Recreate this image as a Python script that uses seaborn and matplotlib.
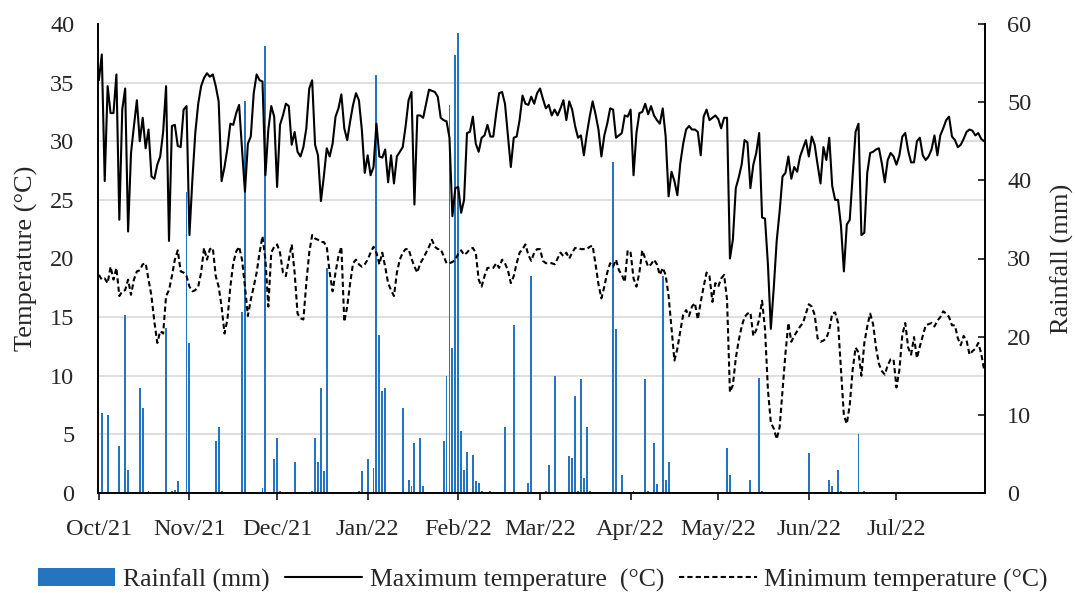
import numpy as np
import pandas as pd
import matplotlib
matplotlib.use("Agg")
import matplotlib.pyplot as plt
import seaborn as sns
from matplotlib.patches import Patch
from matplotlib.lines import Line2D

# ---------------- data (daily, 1 Oct 2021 - 31 Jul 2022) ----------------
tmax_oct = [35.2, 37.4, 26.6, 34.7, 32.4, 32.4, 35.7, 23.3, 32.7, 34.5, 22.3, 29.0, 31.3, 33.5, 30.0, 32.0,
            29.4, 31.0, 27.0, 26.8, 28.0, 28.7, 30.8, 34.7, 21.5, 31.3, 31.4, 29.6, 29.5, 32.7, 33.0]
tmax_nov = [22.0, 26.7, 30.7, 33.2, 34.7, 35.4, 35.8, 35.5, 35.7, 34.7, 33.4, 26.6, 27.8, 29.4, 31.5, 31.4,
            32.4, 33.1, 29.3, 25.7, 29.8, 30.4, 34.1, 35.7, 35.2, 35.1, 27.1, 31.0, 33.0, 32.1]
tmax_dec = [26.1, 31.4, 32.2, 33.2, 33.0, 29.7, 30.8, 29.1, 28.7, 29.5, 31.1, 34.5, 35.2, 29.7, 28.8, 24.9,
            27.0, 29.4, 28.7, 29.8, 32.1, 32.8, 34.0, 31.1, 30.1, 31.7, 33.1, 34.1, 33.5, 31.0, 27.3]
tmax_jan = [28.8, 27.1, 27.8, 31.5, 28.7, 28.6, 29.3, 26.5, 28.8, 26.4, 28.7, 29.1, 29.5, 31.3, 33.5, 34.2,
            24.6, 32.2, 32.2, 32.0, 33.2, 34.4, 34.3, 34.2, 33.8, 32.0, 31.8, 31.7, 30.3, 23.6, 26.0]
tmax_feb = [26.1, 23.9, 25.0, 30.7, 30.8, 32.1, 29.8, 29.1, 30.3, 30.5, 31.4, 30.4, 30.4, 32.4, 34.1, 34.2,
            33.2, 30.5, 27.8, 30.3, 30.4, 31.8, 33.9, 33.2, 33.1, 33.8, 33.2, 34.1]
tmax_mar = [34.5, 33.6, 32.8, 33.1, 32.2, 32.7, 32.2, 32.8, 33.5, 31.8, 33.4, 32.7, 31.3, 30.3, 30.5, 28.8,
            30.6, 32.1, 33.4, 32.3, 31.0, 28.7, 30.5, 31.5, 32.8, 32.7, 30.3, 30.5, 30.7, 32.2, 32.1]
tmax_apr = [32.7, 27.1, 30.7, 32.4, 32.5, 33.2, 32.3, 33.0, 32.2, 31.8, 31.5, 32.8, 30.4, 25.3, 27.4, 26.6,
            25.4, 28.1, 29.8, 31.0, 31.3, 31.0, 31.0, 30.8, 28.8, 32.1, 32.7, 31.8, 32.0, 32.2]
tmax_may = [31.9, 31.1, 32.0, 32.0, 20.0, 21.6, 26.0, 26.9, 28.0, 30.1, 29.9, 26.0, 28.0, 29.0, 30.7, 23.5,
            23.4, 19.5, 14.0, 17.5, 21.5, 24.0, 27.0, 27.3, 28.7, 26.8, 27.8, 27.4, 28.7, 29.4, 30.1]
tmax_jun = [28.7, 30.4, 29.7, 28.0, 26.4, 29.5, 28.4, 30.3, 26.2, 25.0, 25.0, 22.8, 18.9, 22.9, 23.3, 27.1,
            30.8, 31.5, 22.0, 22.2, 27.3, 29.0, 29.1, 29.3, 29.4, 28.1, 26.5, 28.4, 29.0, 28.7]
tmax_jul = [28.0, 28.8, 30.4, 30.7, 29.2, 28.2, 28.2, 30.0, 30.3, 28.8, 28.4, 28.7, 29.3, 30.5, 28.8, 30.5,
            31.1, 31.8, 32.1, 30.4, 30.1, 29.5, 29.7, 30.2, 30.8, 31.0, 30.9, 30.5, 30.7, 30.2, 30.0]

tmin_oct = [18.6, 18.2, 18.3, 17.9, 19.3, 18.2, 19.2, 16.8, 17.2, 17.3, 18.2, 16.9, 18.2, 18.9, 19.0, 19.5,
            19.6, 18.2, 16.8, 14.6, 12.8, 13.8, 13.6, 16.8, 17.3, 18.5, 19.9, 20.7, 18.9, 18.8, 18.5]
tmin_nov = [17.6, 17.2, 17.3, 17.6, 18.8, 20.9, 19.9, 20.8, 20.9, 18.5, 17.6, 15.9, 13.6, 14.8, 17.6, 19.6,
            20.6, 21.0, 19.9, 17.6, 15.1, 16.5, 17.6, 18.8, 20.5, 21.9, 19.9, 15.9, 20.5, 21.0]
tmin_dec = [21.2, 20.5, 18.8, 18.5, 19.9, 21.2, 18.8, 15.3, 14.9, 14.8, 17.9, 20.5, 22.0, 21.7, 21.6, 21.4,
            21.4, 21.0, 18.8, 17.2, 18.8, 20.2, 21.0, 14.6, 15.9, 17.9, 19.6, 19.9, 19.5, 19.3, 19.5]
tmin_jan = [19.9, 20.5, 21.0, 20.5, 19.5, 20.5, 19.3, 17.9, 17.3, 16.8, 18.8, 19.9, 20.5, 20.8, 20.8, 20.0,
            19.3, 18.8, 19.6, 20.0, 20.5, 21.0, 21.6, 21.0, 20.8, 20.8, 20.2, 19.6, 19.6, 19.7, 19.9]
tmin_feb = [20.4, 20.7, 20.3, 20.5, 20.8, 20.9, 20.5, 18.2, 17.6, 18.5, 19.2, 19.2, 19.2, 19.6, 19.2, 19.9,
            19.6, 19.0, 17.9, 18.5, 19.6, 20.5, 20.8, 21.2, 20.3, 19.8, 20.5, 20.8]
tmin_mar = [20.8, 19.8, 19.6, 19.6, 19.6, 19.5, 20.0, 20.5, 20.2, 20.5, 20.0, 20.5, 20.9, 20.9, 20.8, 20.8,
            20.8, 21.0, 21.1, 19.5, 17.8, 16.6, 17.6, 18.8, 19.6, 19.3, 19.9, 19.0, 18.6, 18.0, 20.7]
tmin_apr = [20.5, 18.3, 17.6, 18.8, 20.7, 20.0, 19.3, 19.5, 19.9, 19.5, 18.6, 19.2, 18.6, 16.8, 14.0, 11.3,
            12.3, 13.8, 15.2, 15.6, 15.1, 15.9, 16.2, 14.8, 16.3, 17.6, 18.8, 18.5, 16.3, 17.9]
tmin_may = [17.6, 18.3, 18.6, 16.5, 8.6, 9.2, 11.5, 13.0, 14.2, 15.0, 15.3, 15.4, 13.4, 13.9, 14.8, 16.4,
            14.0, 8.8, 6.0, 5.5, 4.6, 5.6, 8.8, 11.9, 14.5, 12.9, 13.4, 13.8, 14.2, 14.5, 15.3]
tmin_jun = [16.1, 15.9, 15.2, 13.2, 12.9, 13.0, 13.2, 13.9, 15.3, 15.4, 14.5, 10.5, 6.6, 5.9, 7.5, 10.5,
            12.4, 12.0, 10.0, 12.8, 14.2, 15.3, 14.4, 12.4, 11.0, 10.4, 10.1, 10.9, 11.4, 11.4]
tmin_jul = [9.0, 10.5, 13.5, 14.5, 12.4, 11.8, 13.3, 11.5, 12.5, 13.4, 14.3, 14.4, 14.5, 14.2, 14.7, 15.0,
            15.5, 15.3, 15.0, 14.3, 14.3, 13.2, 12.6, 13.4, 13.0, 11.8, 12.1, 12.3, 12.8, 11.9, 10.5]

rain_dates = ["2021-10-02", "2021-10-04", "2021-10-08", "2021-10-10", "2021-10-11", "2021-10-15",
              "2021-10-16", "2021-10-18", "2021-10-24", "2021-10-26", "2021-10-27", "2021-10-28",
              "2021-10-31", "2021-11-01", "2021-11-10", "2021-11-11", "2021-11-12", "2021-11-19",
              "2021-11-20", "2021-11-26", "2021-11-27", "2021-11-30", "2021-12-01", "2021-12-02",
              "2021-12-07", "2021-12-13", "2021-12-14", "2021-12-15", "2021-12-16", "2021-12-17",
              "2021-12-18", "2021-12-29", "2021-12-30", "2022-01-01", "2022-01-03", "2022-01-04",
              "2022-01-05", "2022-01-06", "2022-01-07", "2022-01-13", "2022-01-15", "2022-01-16",
              "2022-01-17", "2022-01-19", "2022-01-20", "2022-01-27", "2022-01-28", "2022-01-29",
              "2022-01-30", "2022-01-31", "2022-02-01", "2022-02-02", "2022-02-03", "2022-02-04",
              "2022-02-06", "2022-02-07", "2022-02-08", "2022-02-09", "2022-02-12", "2022-02-17",
              "2022-02-20", "2022-02-25", "2022-02-26", "2022-03-03", "2022-03-04", "2022-03-06",
              "2022-03-11", "2022-03-12", "2022-03-13", "2022-03-14", "2022-03-15", "2022-03-16",
              "2022-03-17", "2022-03-18", "2022-03-26", "2022-03-27", "2022-03-29", "2022-04-02",
              "2022-04-06", "2022-04-07", "2022-04-09", "2022-04-10", "2022-04-12", "2022-04-13",
              "2022-04-14", "2022-05-04", "2022-05-05", "2022-05-12", "2022-05-15", "2022-05-16",
              "2022-06-01", "2022-06-08", "2022-06-09", "2022-06-11", "2022-06-12", "2022-06-18",
              "2022-06-20"]
rain_mm = [10.2, 10.0, 6.0, 22.8, 3.0, 13.4,
           10.9, 0.2, 21.1, 0.2, 0.4, 1.5,
           38.5, 19.2, 6.6, 8.5, 0.2, 23.2,
           50.1, 0.6, 57.2, 4.3, 7.0, 0.2,
           4.0, 0.2, 7.0, 4.0, 13.4, 2.8,
           28.8, 0.2, 2.8, 4.3, 3.2, 53.5,
           20.2, 13.0, 13.4, 10.9, 1.7, 0.9,
           6.4, 7.0, 0.9, 6.6, 15.0, 49.6,
           18.5, 56.0, 58.8, 7.9, 3.0, 5.3,
           4.9, 1.5, 1.3, 0.2, 0.2, 8.5,
           21.5, 1.3, 27.7, 0.2, 3.6, 15.0,
           4.7, 4.5, 12.4, 0.2, 14.6, 1.9,
           8.5, 0.2, 42.3, 21.0, 2.3, 0.2,
           14.6, 0.2, 6.4, 1.1, 27.7, 1.7,
           4.0, 5.8, 2.3, 1.7, 14.7, 0.2,
           5.1, 1.7, 0.9, 3.0, 0.2, 7.5,
           0.2]

month_labels = ["Oct/21", "Nov/21", "Dec/21", "Jan/22", "Feb/22", "Mar/22",
                "Apr/22", "May/22", "Jun/22", "Jul/22"]
temp_ticks = [0, 5, 10, 15, 20, 25, 30, 35, 40]
rain_ticks = [0, 10, 20, 30, 40, 50, 60]

# ---------------- assemble ----------------
dates = pd.date_range("2021-10-01", "2022-07-31", freq="D")
tmax = np.array(tmax_oct + tmax_nov + tmax_dec + tmax_jan + tmax_feb + tmax_mar +
                tmax_apr + tmax_may + tmax_jun + tmax_jul)
tmin = np.array(tmin_oct + tmin_nov + tmin_dec + tmin_jan + tmin_feb + tmin_mar +
                tmin_apr + tmin_may + tmin_jun + tmin_jul)
rain = np.zeros(len(dates))
rain[dates.get_indexer(pd.to_datetime(rain_dates))] = rain_mm
df = pd.DataFrame({"day": np.arange(len(dates)), "tmax": tmax, "tmin": tmin, "rain": rain})
month_pos = np.where(dates.day == 1)[0]

# ---------------- style ----------------
sns.set_theme(style="white")
plt.rcParams['font.family'] = ['Liberation Serif', 'DejaVu Serif']
BLUE = "#2474C0"

W, H = 1075, 593
fig = plt.figure(figsize=(W / 100, H / 100), dpi=100)
L, R, T, B = 98, 985, 24, 493
ax = fig.add_axes([L / W, 1 - B / H, (R - L) / W, (B - T) / H])
ax2 = ax.twinx()
ax.set_zorder(ax2.get_zorder() + 1)
ax.patch.set_visible(False)

# rainfall bars on the secondary axis (drawn underneath)
ax2.bar(df["day"], df["rain"], width=0.65, color=BLUE, linewidth=0, zorder=2)
ax2.set_ylim(0, 60)
ax2.set_yticks(rain_ticks)
ax2.set_yticks(np.arange(7.5, 60.01, 7.5), minor=True)
ax2.yaxis.grid(True, which='minor', color='#d9d9d9', lw=1.2)
ax2.set_axisbelow(True)
ax2.tick_params(axis='y', which='major', direction='in', length=5, width=1.1,
                color='black', labelsize=17.5, pad=16, right=True)
ax2.tick_params(axis='y', which='minor', length=0)

# temperature lines
sns.lineplot(data=df, x="day", y="tmax", ax=ax, color="black", lw=1.5)
sns.lineplot(data=df, x="day", y="tmin", ax=ax, color="black", lw=1.5,
             linestyle=(0, (2.5, 1.5)))

ax.set_xlim(-0.3, len(dates) - 0.7)
ax.set_ylim(0, 40)
ax.set_yticks(temp_ticks)
ax.set_xticks(month_pos)
ax.set_xticklabels(month_labels)
ax.tick_params(axis='y', length=0, labelsize=17.5, pad=17)
ax.tick_params(axis='x', direction='out', length=5, width=1.1, color='black',
               labelsize=17.5, pad=14, bottom=True)
ax.grid(False)
ax.set_xlabel("")

for a in (ax, ax2):
    a.spines['top'].set_visible(False)
    for s in ('left', 'right', 'bottom'):
        a.spines[s].set_color('black')
        a.spines[s].set_linewidth(1.2)

ylab = ax.set_ylabel("Temperature (°C)", fontsize=19)
ax.yaxis.set_label_coords((26 - L) / (R - L), 0.5)
ylab.set_verticalalignment('center')
rlab = ax2.set_ylabel("Rainfall (mm)", fontsize=19, rotation=90)
ax2.yaxis.set_label_coords((1062 - L) / (R - L), 0.5)
rlab.set_verticalalignment('center')

handles = [Patch(facecolor=BLUE, edgecolor='none'),
           Line2D([], [], color='black', lw=1.5),
           Line2D([], [], color='black', lw=1.5, linestyle=(0, (2.5, 1.5)))]
labels = ["Rainfall (mm)", "Maximum temperature  (°C)", "Minimum temperature (°C)"]
fig.legend(handles, labels, loc='center', bbox_to_anchor=(0.505, 1 - 580 / H), ncol=3,
           frameon=False, fontsize=18.5, handlelength=3.0, handletextpad=0.3,
           columnspacing=0.6, borderaxespad=0)

fig.savefig("out.png", dpi=100)
